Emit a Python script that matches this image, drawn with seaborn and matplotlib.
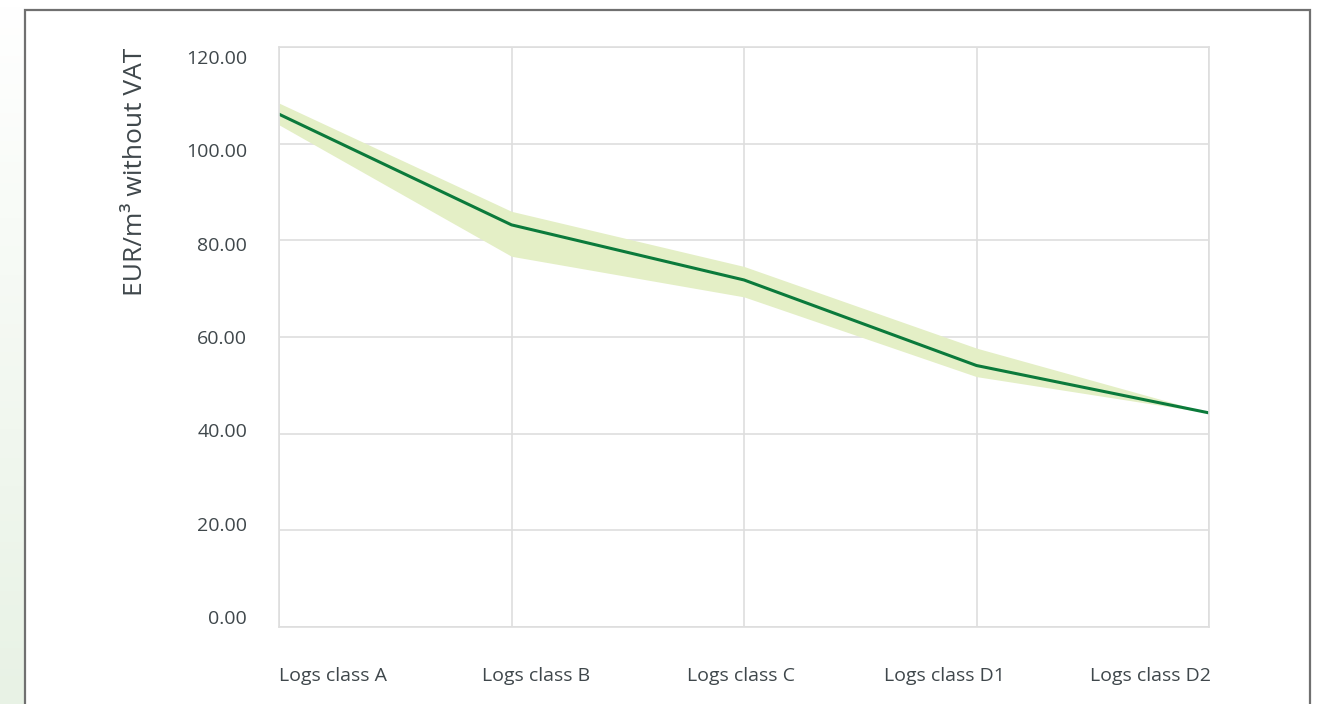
import numpy as np
import pandas as pd
import seaborn as sns
import matplotlib.pyplot as plt
from matplotlib.patches import Rectangle
from matplotlib.transforms import ScaledTranslation
from matplotlib.colors import LinearSegmentedColormap

# values
classes = ['Logs class A', 'Logs class B', 'Logs class C', 'Logs class D1', 'Logs class D2']
price_mid = [106.1, 83.2, 71.8, 54.1, 44.3]
price_low = [103.9, 76.7, 68.3, 51.8, 44.3]
price_high = [108.4, 86.0, 74.6, 57.7, 44.3]
yticks = [0, 20, 40, 60, 80, 100, 120]

df = pd.DataFrame({'cls': classes, 'mid': price_mid, 'low': price_low, 'high': price_high})
df['pos'] = np.arange(len(df))

sns.set_style('white')
plt.rcParams['font.family'] = ['Open Sans', 'DejaVu Sans']

fig = plt.figure(figsize=(13.19, 7.04), dpi=100)
ax = fig.add_axes([279 / 1319, 1 - 627 / 704, 930 / 1319, 580 / 704])

# faint green strip on the far left (white at top, pale green at the bottom)
gax = fig.add_axes([0, 0, 25 / 1319, 1])
grad = np.linspace(1, 0, 100).reshape(-1, 1)
strip_cmap = LinearSegmentedColormap.from_list('strip', ['#ffffff', '#e8f2e5'])
gax.imshow(grad, aspect='auto', cmap=strip_cmap, origin='lower')
gax.axis('off')

# frame around the panel
fig.patches.append(Rectangle((25 / 1319, -0.05), 1285 / 1319, 1 - 10 / 704 + 0.05,
                             transform=fig.transFigure, fill=False,
                             edgecolor='#707070', linewidth=1.6))

ax.fill_between(df['pos'], df['low'], df['high'], color='#e4efc6', linewidth=0, zorder=1)
sns.lineplot(data=df, x='pos', y='mid', color='#0b7a3b', linewidth=2.2, ax=ax, zorder=2)

ax.set_xlim(0, len(df) - 1)
ax.set_ylim(0, 120)
ax.set_yticks(yticks)
ax.set_yticklabels([f'{v:.2f}' for v in yticks])
ax.set_xticks(df['pos'])
ax.set_xticklabels(classes)
ax.grid(True, color='#dedede', linewidth=1.2)
ax.set_axisbelow(True)
for s in ax.spines.values():
    s.set_color('#dedede')
    s.set_linewidth(1.2)
ax.tick_params(axis='y', length=0, pad=23, labelsize=14, labelcolor='#3f474b')
ax.tick_params(axis='x', length=0, pad=29, labelsize=14, labelcolor='#3f474b')
ax.set_xlabel('')
ax.set_ylabel('')

# category labels are spread evenly like in the original export
x_shift = [54, 25, -3, -32, -59]
for lab, dx in zip(ax.get_xticklabels(), x_shift):
    lab.set_transform(lab.get_transform() + ScaledTranslation(dx / 100, 0, fig.dpi_scale_trans))
# value labels are slightly squeezed toward the middle
for i, lab in enumerate(ax.get_yticklabels()):
    dy = (i - 3) * 3.3
    lab.set_transform(lab.get_transform() + ScaledTranslation(0, -dy / 100, fig.dpi_scale_trans))

fig.text(135 / 1319, 1 - 48 / 704, 'EUR/m³ without VAT', rotation=90,
         ha='center', va='top', fontsize=19, color='#3f474b')

fig.savefig('out.png', dpi=100)
